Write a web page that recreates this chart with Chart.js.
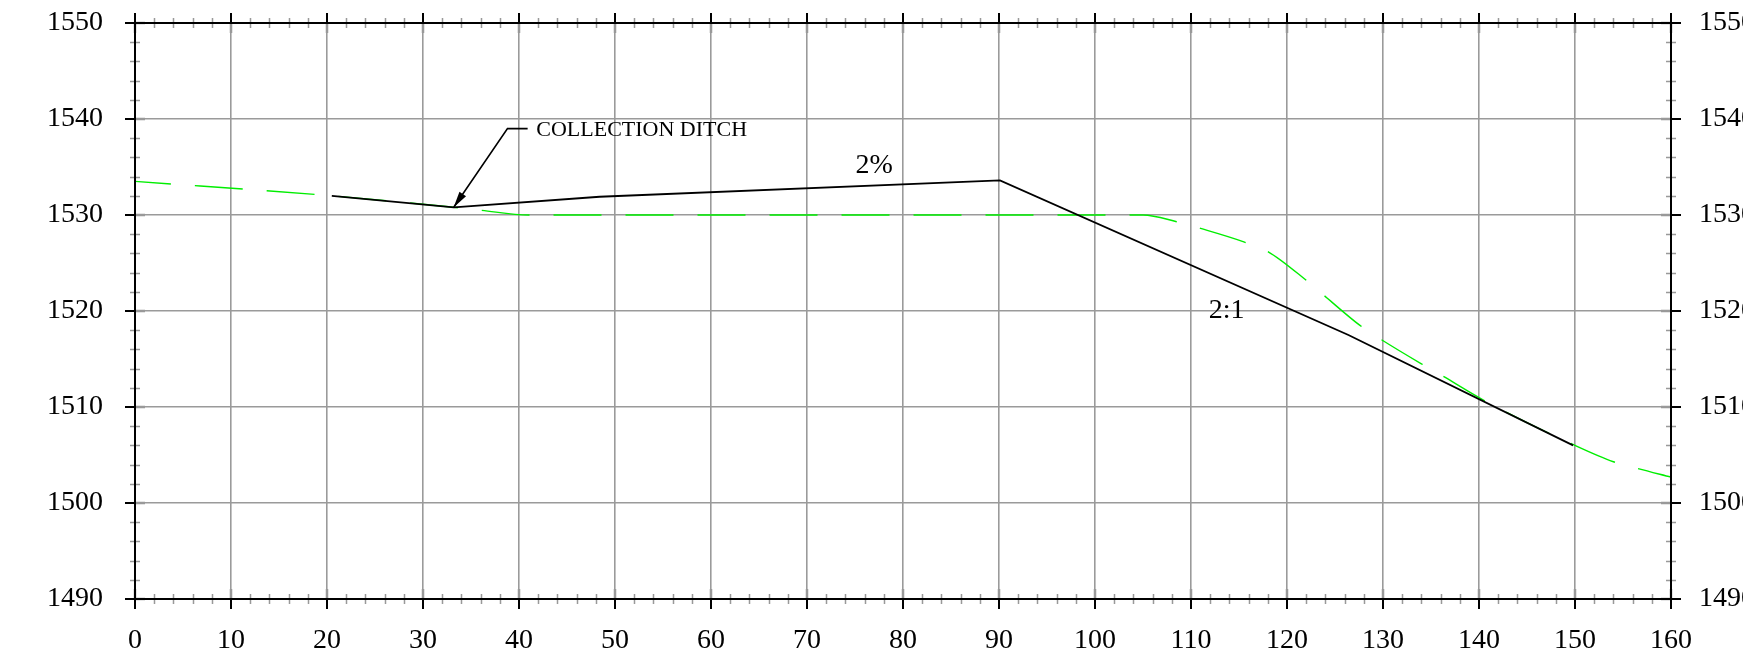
<!DOCTYPE html>
<html>
<head>
<meta charset="utf-8">
<script src="https://cdn.jsdelivr.net/npm/chart.js@4"></script>
<style>
  body { margin: 0; background: #fff; }
  canvas { display: block; }
</style>
</head>
<body>
<canvas id="profile" width="1743" height="664"></canvas>
<script>
// Axis ticks
const xTicks = [0, 10, 20, 30, 40, 50, 60, 70, 80, 90, 100, 110, 120, 130, 140, 150, 160];
const yTicks = [1490, 1500, 1510, 1520, 1530, 1540, 1550];

// Proposed grade (black solid)
const proposedX = [20.5, 33.2, 48.4, 90.1, 126.4, 149.8];
const proposedY = [1532.0, 1530.8, 1531.9, 1533.6, 1517.5, 1506.0];

// Existing ground (green dashed)
const existingX = [0, 20.5, 33.2, 36, 41, 105, 108.5, 111, 115.5, 118, 122, 124, 127.6, 129.7, 134, 136.1, 140.5, 150, 154, 156.5, 160];
const existingY = [1533.5, 1532.0, 1530.8, 1530.5, 1530.0, 1530.0, 1529.3, 1528.6, 1527.2, 1526.2, 1523.2, 1521.5, 1518.5, 1517.1, 1514.5, 1513.3, 1510.7, 1506.0, 1504.3, 1503.6, 1502.7];

// Notes (station, elevation)
const noteTexts = ['2%', '2:1', 'COLLECTION DITCH'];
const noteX = [77.0, 113.7, 41.8];
const noteY = [1535.1, 1520.0, 1538.8];
const leaderX = [40.9, 38.8, 33.2];
const leaderY = [1539.0, 1539.0, 1530.8];

const toPoints = (xs, ys) => xs.map((v, i) => ({ x: v, y: ys[i] }));

Chart.defaults.font.family = '"Liberation Serif", serif';
Chart.defaults.color = '#000';

// draws the frame, tick marks and the text notes
const sectionPlugin = {
  id: 'sectionPlugin',
  afterDatasetsDraw(chart) {
    const { ctx, chartArea: a, scales } = chart;
    const x = scales.x, y = scales.y;
    ctx.save();

    // minor ticks every 2 units
    ctx.strokeStyle = '#999';
    ctx.lineWidth = 1.5;
    ctx.beginPath();
    for (let v = 0; v <= 160; v += 2) {
      if (v % 10 === 0) continue;
      const px = Math.round(x.getPixelForValue(v)) + 0.5;
      ctx.moveTo(px, a.top - 5); ctx.lineTo(px, a.top + 5);
      ctx.moveTo(px, a.bottom - 5); ctx.lineTo(px, a.bottom + 5);
    }
    for (let v = 1490; v <= 1550; v += 2) {
      if (v % 10 === 0) continue;
      const py = Math.round(y.getPixelForValue(v)) + 0.5;
      ctx.moveTo(a.left - 5, py); ctx.lineTo(a.left + 5, py);
      ctx.moveTo(a.right - 5, py); ctx.lineTo(a.right + 5, py);
    }
    ctx.stroke();

    // major ticks: black outside, grey stub inside
    ctx.strokeStyle = '#999';
    ctx.lineWidth = 2.5;
    ctx.beginPath();
    xTicks.forEach(v => {
      const px = x.getPixelForValue(v);
      ctx.moveTo(px, a.top); ctx.lineTo(px, a.top + 10);
      ctx.moveTo(px, a.bottom - 10); ctx.lineTo(px, a.bottom);
    });
    yTicks.forEach(v => {
      const py = y.getPixelForValue(v);
      ctx.moveTo(a.left, py); ctx.lineTo(a.left + 10, py);
      ctx.moveTo(a.right - 10, py); ctx.lineTo(a.right, py);
    });
    ctx.stroke();

    ctx.strokeStyle = '#000';
    ctx.lineWidth = 2;
    ctx.beginPath();
    xTicks.forEach(v => {
      const px = x.getPixelForValue(v);
      ctx.moveTo(px, a.top - 10); ctx.lineTo(px, a.top);
      ctx.moveTo(px, a.bottom); ctx.lineTo(px, a.bottom + 10);
    });
    yTicks.forEach(v => {
      const py = y.getPixelForValue(v);
      ctx.moveTo(a.left - 10, py); ctx.lineTo(a.left, py);
      ctx.moveTo(a.right, py); ctx.lineTo(a.right + 10, py);
    });
    ctx.stroke();
    ctx.strokeRect(a.left, a.top, a.width, a.height);

    // leader with arrow
    const lx = leaderX.map(v => x.getPixelForValue(v));
    const ly = leaderY.map(v => y.getPixelForValue(v));
    ctx.lineWidth = 1.6;
    ctx.beginPath();
    ctx.moveTo(lx[0], ly[0]);
    for (let i = 1; i < lx.length; i++) ctx.lineTo(lx[i], ly[i]);
    ctx.stroke();
    const n = lx.length - 1;
    const ang = Math.atan2(ly[n] - ly[n - 1], lx[n] - lx[n - 1]);
    ctx.fillStyle = '#000';
    ctx.beginPath();
    ctx.moveTo(lx[n], ly[n]);
    ctx.lineTo(lx[n] - 16 * Math.cos(ang) + 4 * Math.sin(ang), ly[n] - 16 * Math.sin(ang) - 4 * Math.cos(ang));
    ctx.lineTo(lx[n] - 16 * Math.cos(ang) - 4 * Math.sin(ang), ly[n] - 16 * Math.sin(ang) + 4 * Math.cos(ang));
    ctx.closePath();
    ctx.fill();

    // text notes
    ctx.textBaseline = 'middle';
    noteTexts.forEach((t, i) => {
      const small = t.length > 4;
      ctx.font = (small ? '22px' : '28px') + ' "Liberation Serif", serif';
      ctx.textAlign = small ? 'left' : 'center';
      ctx.fillText(t, x.getPixelForValue(noteX[i]), y.getPixelForValue(noteY[i]));
    });
    ctx.restore();
  }
};

const plain = v => String(v);
// fixed box for the vertical axes, no extra label padding above/below
const fitY = w => s => { s.width = w; s.paddingTop = 0; s.paddingBottom = 0; };

new Chart(document.getElementById('profile'), {
  type: 'line',
  data: {
    datasets: [
      {
        label: 'Proposed',
        data: toPoints(proposedX, proposedY),
        borderColor: '#000',
        borderWidth: 1.8,
        pointRadius: 0,
        tension: 0
      },
      {
        label: 'Existing',
        data: toPoints(existingX, existingY),
        borderColor: '#00ee00',
        borderWidth: 1.4,
        borderDash: [48, 24],
        borderDashOffset: 12,
        pointRadius: 0,
        cubicInterpolationMode: 'monotone'
      }
    ]
  },
  options: {
    responsive: false,
    devicePixelRatio: 1,
    animation: false,
    layout: { padding: { top: 23, left: 0, right: 0, bottom: 0 } },
    plugins: { legend: { display: false }, tooltip: { enabled: false } },
    scales: {
      x: {
        type: 'linear',
        min: 0, max: 160,
        afterFit: s => { s.height = 65; s.paddingLeft = 0; s.paddingRight = 0; },
        afterBuildTicks: s => { s.ticks = xTicks.map(v => ({ value: v })); },
        ticks: { autoSkip: false, maxRotation: 0, padding: 25, font: { size: 28 }, callback: plain },
        grid: { color: '#9a9a9a', lineWidth: 1.6, drawTicks: false },
        border: { display: false }
      },
      y: {
        min: 1490, max: 1550,
        afterFit: fitY(135),
        afterBuildTicks: s => { s.ticks = yTicks.map(v => ({ value: v })); },
        ticks: { padding: 32, font: { size: 28 }, callback: plain },
        grid: { color: '#9a9a9a', lineWidth: 1.6, drawTicks: false },
        border: { display: false }
      },
      y2: {
        position: 'right',
        min: 1490, max: 1550,
        afterFit: fitY(72),
        afterBuildTicks: s => { s.ticks = yTicks.map(v => ({ value: v })); },
        ticks: { padding: 28, font: { size: 28 }, callback: plain },
        grid: { display: false, drawTicks: false },
        border: { display: false }
      }
    }
  },
  plugins: [sectionPlugin]
});
</script>
</body>
</html>
